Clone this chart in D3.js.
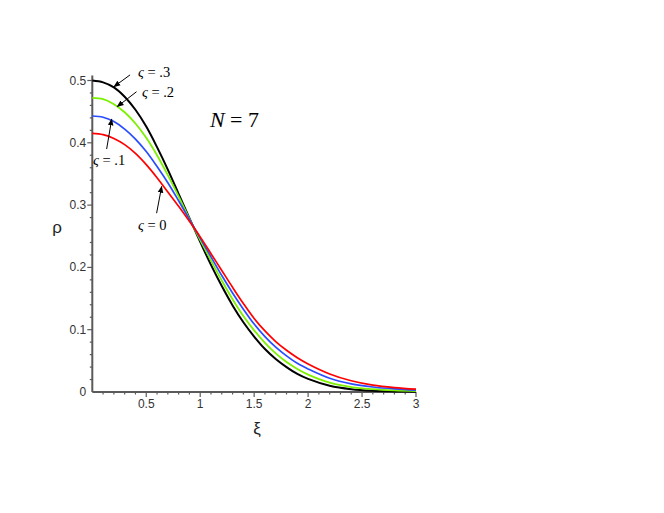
<!DOCTYPE html>
<html><head><meta charset="utf-8">
<script src="https://cdn.jsdelivr.net/npm/d3@7"></script>
<style>body{margin:0;background:#fff;}svg{display:block;}</style>
</head><body>
<svg id="chart" width="664" height="513"></svg>
<script>
const xi = [0,0.1,0.2,0.3,0.4,0.5,0.6,0.7,0.8,0.9,1.0,1.1,1.2,1.3,1.4,1.5,1.6,1.7,1.8,1.9,2.0,2.2,2.4,2.6,2.8,3.0];
const rho3 = [0.500,0.497,0.489,0.474,0.453,0.426,0.393,0.357,0.318,0.279,0.241,0.204,0.170,0.139,0.112,0.089,0.069,0.053,0.040,0.029,0.021,0.010,0.0045,0.002,0.001,0.0004];
const rho2 = [0.472,0.470,0.462,0.449,0.431,0.408,0.380,0.348,0.314,0.278,0.244,0.211,0.179,0.149,0.122,0.099,0.079,0.062,0.048,0.037,0.028,0.015,0.008,0.0045,0.0025,0.0015];
const rho1 = [0.443,0.441,0.434,0.422,0.406,0.386,0.362,0.336,0.307,0.277,0.247,0.217,0.187,0.159,0.133,0.109,0.089,0.072,0.058,0.046,0.037,0.022,0.013,0.008,0.005,0.003];
const rho0 = [0.415,0.413,0.407,0.397,0.383,0.365,0.344,0.321,0.298,0.274,0.249,0.222,0.195,0.168,0.142,0.118,0.098,0.081,0.067,0.055,0.045,0.029,0.018,0.011,0.007,0.0045];
const seriesNames = ["ς = .3","ς = .2","ς = .1","ς = 0"];
const seriesColors = ["#000000","#7cf000","#2a4cff","#ff0000"];
const seriesWidths = [2,1.8,1.7,1.7];
const xTicks = [0.5,1,1.5,2,2.5,3];
const yTicks = [0,0.1,0.2,0.3,0.4,0.5];
// annotation labels and arrows, in data units
const annLabels = ["ς = .3","ς = .2","ς = .1","ς = 0"];
const annLabelX = [0.424,0.46,0.006,0.423];
const annLabelY = [0.506,0.473,0.364,0.26];
const annTail = [[0.35,0.509],[0.41,0.482],[0.133,0.390],[0.596,0.287]];
const annHead = [[0.20,0.490],[0.231,0.458],[0.18,0.438],[0.643,0.330]];

const svg = d3.select("#chart");
const x = d3.scaleLinear().domain([0,3]).range([92.3,416]);
const y = d3.scaleLinear().domain([0,0.5]).range([392,80.5]);
const axisColor = "#5a5a5a";

const defs = svg.append("defs");
defs.append("marker").attr("id","ah").attr("viewBox","0 0 10 10").attr("refX",9).attr("refY",5)
  .attr("markerWidth",7).attr("markerHeight",7).attr("orient","auto")
  .append("path").attr("d","M0,1 L10,5 L0,9 z").attr("fill","#000");

// axes
const gx = svg.append("g").attr("transform",`translate(0,${y(0)})`);
gx.append("line").attr("x1",x(0)).attr("x2",x(3)).attr("stroke",axisColor).attr("stroke-width",2);
const xMinor = d3.range(1,31).map(d=>d/10);
gx.selectAll(".mx").data(xMinor).join("line")
  .attr("x1",d=>x(d)).attr("x2",d=>x(d)).attr("y1",0)
  .attr("y2",d=>Math.abs(d*2-Math.round(d*2))<1e-6?5:2.5)
  .attr("stroke",axisColor).attr("stroke-width",1.2);
gx.selectAll(".xl").data(xTicks).join("text")
  .attr("x",d=>x(d)).attr("y",16).attr("text-anchor","middle")
  .attr("font-family","Liberation Sans, Arial, sans-serif").attr("font-size",12).attr("fill","#333")
  .text(d=>d3.format("~g")(d));

const gy = svg.append("g").attr("transform",`translate(${x(0)},0)`);
gy.append("line").attr("y1",y(0)).attr("y2",y(0.508)).attr("stroke",axisColor).attr("stroke-width",2);
const yMinor = d3.range(1,26).map(d=>d/50);
gy.selectAll(".my").data(yMinor).join("line")
  .attr("y1",d=>y(d)).attr("y2",d=>y(d)).attr("x1",0)
  .attr("x2",d=>Math.abs(d*10-Math.round(d*10))<1e-6?-5:-2.5)
  .attr("stroke",axisColor).attr("stroke-width",1.2);
gy.selectAll(".yl").data(yTicks).join("text")
  .attr("x",-6).attr("y",d=>y(d)+4).attr("text-anchor","end")
  .attr("font-family","Liberation Sans, Arial, sans-serif").attr("font-size",12).attr("fill","#333")
  .text(d=>d3.format("~g")(d));

svg.append("text").attr("x",57).attr("y",233).attr("text-anchor","middle")
  .attr("font-family","Liberation Sans, Arial, sans-serif").attr("font-size",17).attr("fill","#222").text("ρ");
svg.append("text").attr("x",257).attr("y",434).attr("text-anchor","middle")
  .attr("font-family","Liberation Sans, Arial, sans-serif").attr("font-size",17).attr("fill","#222").text("ξ");

// curves
const allSeries = [rho3,rho2,rho1,rho0];
const line = d3.line().x((d,i)=>x(xi[i])).y(d=>y(d)).curve(d3.curveCatmullRom.alpha(0.5));
allSeries.forEach((s,k)=>{
  svg.append("path").datum(s).attr("d",line).attr("fill","none")
    .attr("stroke",seriesColors[k]).attr("stroke-width",seriesWidths[k]).attr("aria-label",seriesNames[k]);
});

// annotations
annLabels.forEach((t,i)=>{
  svg.append("line").attr("x1",x(annTail[i][0])).attr("y1",y(annTail[i][1]))
    .attr("x2",x(annHead[i][0])).attr("y2",y(annHead[i][1]))
    .attr("stroke","#000").attr("stroke-width",1).attr("marker-end","url(#ah)");
  const parts = t.split("ς");
  const tx = svg.append("text").attr("x",x(annLabelX[i])).attr("y",y(annLabelY[i]))
    .attr("font-family","Liberation Serif, Times New Roman, serif").attr("font-size",14.5).attr("fill","#000");
  tx.append("tspan").attr("font-style","italic").text("ς");
  tx.append("tspan").text(parts[1]);
});

const nt = svg.append("text").attr("x",x(1.09)).attr("y",y(0.425))
  .attr("font-family","Liberation Serif, Times New Roman, serif").attr("font-size",22).attr("fill","#000");
nt.append("tspan").attr("font-style","italic").text("N");
nt.append("tspan").text(" = 7");
</script>
</body></html>
